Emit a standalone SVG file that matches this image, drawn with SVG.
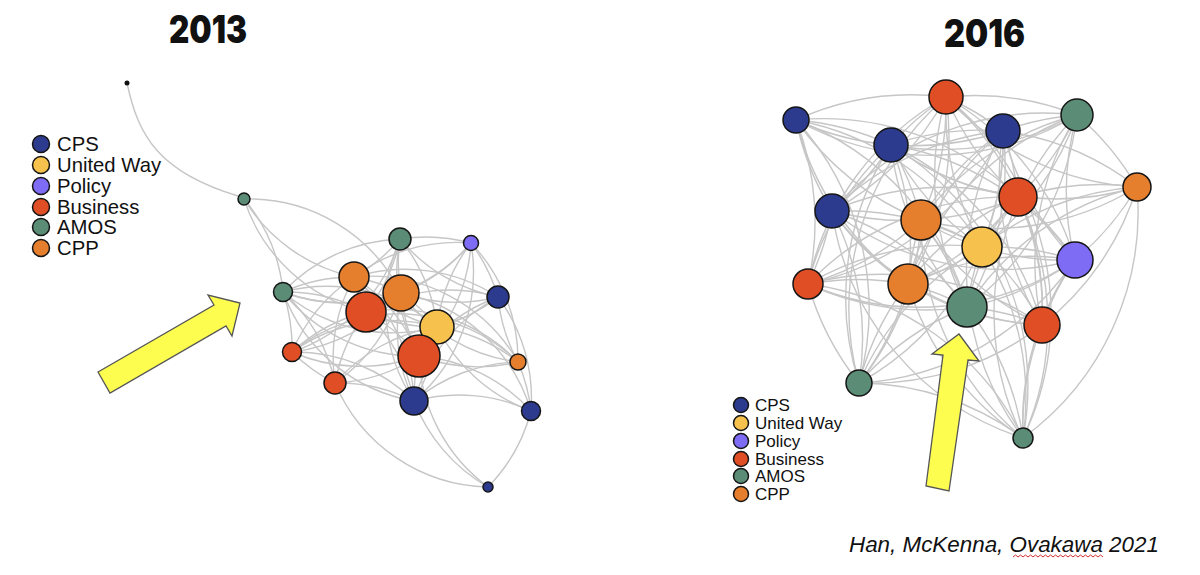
<svg xmlns="http://www.w3.org/2000/svg" width="1200" height="575" viewBox="0 0 1200 575">
<style>
.e{fill:none;stroke:#c6c6c6;stroke-width:1.4}
.nd{stroke:#151515;stroke-width:1.5}
.cps{fill:#2c3b8e}.uw{fill:#f6c24d}.pol{fill:#7f6cf4}.bus{fill:#df4e24}.amos{fill:#5b8c76}.cpp{fill:#e57f2e}
.lg{font-family:"Liberation Sans",Arial,sans-serif;fill:#111}
.yr{font-family:Inter,"Liberation Sans",sans-serif;font-weight:900;font-size:38px;fill:#111}
.arr{fill:#fdfd50;stroke:#555;stroke-width:1.3;stroke-linejoin:miter}
</style>
<rect width="1200" height="575" fill="#fff"/>
<text class="yr" x="169" y="43" textLength="78" lengthAdjust="spacingAndGlyphs">2013</text>
<text class="yr" x="944" y="47" textLength="81" lengthAdjust="spacingAndGlyphs">2016</text>
<g id="connectors">
<g id="edges-2013">
<path class="e" d="M127 83C138 135,158 172,238 196"/>
<path class="e" d="M244 199A170 170 0 0 1 283 292"/>
<path class="e" d="M244 199A170 170 0 0 0 354 277"/>
<path class="e" d="M244 199A170 170 0 0 1 401 293"/>
<path class="e" d="M244 199A170 170 0 0 0 366 312"/>
<path class="e" d="M400 239A170 170 0 0 1 471 243"/>
<path class="e" d="M400 239A170 170 0 0 0 283 292"/>
<path class="e" d="M400 239A170 170 0 0 1 354 277"/>
<path class="e" d="M400 239A170 170 0 0 0 401 293"/>
<path class="e" d="M400 239A170 170 0 0 1 366 312"/>
<path class="e" d="M400 239A170 170 0 0 0 498 297"/>
<path class="e" d="M400 239A170 170 0 0 1 437 327"/>
<path class="e" d="M400 239A170 170 0 0 0 419 356"/>
<path class="e" d="M400 239A170 170 0 0 1 292 352"/>
<path class="e" d="M400 239A170 170 0 0 0 414 401"/>
<path class="e" d="M471 243A170 170 0 0 1 283 292"/>
<path class="e" d="M471 243A170 170 0 0 0 354 277"/>
<path class="e" d="M471 243A170 170 0 0 1 401 293"/>
<path class="e" d="M471 243A170 170 0 0 1 498 297"/>
<path class="e" d="M471 243A170 170 0 0 0 437 327"/>
<path class="e" d="M471 243A170 170 0 0 1 419 356"/>
<path class="e" d="M471 243A170 170 0 0 1 518 362"/>
<path class="e" d="M471 243A170 170 0 0 1 414 401"/>
<path class="e" d="M283 292A170 170 0 0 1 354 277"/>
<path class="e" d="M283 292A170 170 0 0 0 401 293"/>
<path class="e" d="M283 292A170 170 0 0 1 366 312"/>
<path class="e" d="M283 292A170 170 0 0 0 498 297"/>
<path class="e" d="M283 292A170 170 0 0 1 437 327"/>
<path class="e" d="M283 292A170 170 0 0 0 419 356"/>
<path class="e" d="M283 292A170 170 0 0 1 292 352"/>
<path class="e" d="M283 292A170 170 0 0 1 335 383"/>
<path class="e" d="M283 292A170 170 0 0 0 414 401"/>
<path class="e" d="M354 277A170 170 0 0 1 401 293"/>
<path class="e" d="M354 277A170 170 0 0 0 366 312"/>
<path class="e" d="M354 277A170 170 0 0 1 498 297"/>
<path class="e" d="M354 277A170 170 0 0 0 437 327"/>
<path class="e" d="M354 277A170 170 0 0 1 419 356"/>
<path class="e" d="M354 277A170 170 0 0 0 292 352"/>
<path class="e" d="M354 277A170 170 0 0 1 518 362"/>
<path class="e" d="M354 277A170 170 0 0 0 335 383"/>
<path class="e" d="M354 277A170 170 0 0 1 414 401"/>
<path class="e" d="M401 293A170 170 0 0 1 366 312"/>
<path class="e" d="M401 293A170 170 0 0 0 498 297"/>
<path class="e" d="M401 293A170 170 0 0 1 437 327"/>
<path class="e" d="M401 293A170 170 0 0 0 419 356"/>
<path class="e" d="M401 293A170 170 0 0 1 292 352"/>
<path class="e" d="M401 293A170 170 0 0 0 518 362"/>
<path class="e" d="M401 293A170 170 0 0 1 335 383"/>
<path class="e" d="M401 293A170 170 0 0 0 414 401"/>
<path class="e" d="M401 293A170 170 0 0 1 531 411"/>
<path class="e" d="M366 312A170 170 0 0 1 498 297"/>
<path class="e" d="M366 312A170 170 0 0 0 437 327"/>
<path class="e" d="M366 312A170 170 0 0 1 419 356"/>
<path class="e" d="M366 312A170 170 0 0 0 292 352"/>
<path class="e" d="M366 312A170 170 0 0 1 518 362"/>
<path class="e" d="M366 312A170 170 0 0 0 335 383"/>
<path class="e" d="M366 312A170 170 0 0 1 414 401"/>
<path class="e" d="M498 297A170 170 0 0 1 437 327"/>
<path class="e" d="M498 297A170 170 0 0 0 419 356"/>
<path class="e" d="M498 297A170 170 0 0 0 518 362"/>
<path class="e" d="M498 297A170 170 0 0 0 414 401"/>
<path class="e" d="M498 297A170 170 0 0 1 531 411"/>
<path class="e" d="M437 327A170 170 0 0 1 419 356"/>
<path class="e" d="M437 327A170 170 0 0 0 292 352"/>
<path class="e" d="M437 327A170 170 0 0 1 518 362"/>
<path class="e" d="M437 327A170 170 0 0 0 335 383"/>
<path class="e" d="M437 327A170 170 0 0 1 414 401"/>
<path class="e" d="M437 327A170 170 0 0 0 531 411"/>
<path class="e" d="M419 356A170 170 0 0 1 292 352"/>
<path class="e" d="M419 356A170 170 0 0 0 518 362"/>
<path class="e" d="M419 356A170 170 0 0 1 335 383"/>
<path class="e" d="M419 356A170 170 0 0 0 414 401"/>
<path class="e" d="M419 356A170 170 0 0 1 531 411"/>
<path class="e" d="M419 356A170 170 0 0 0 488 487"/>
<path class="e" d="M292 352A170 170 0 0 1 518 362"/>
<path class="e" d="M292 352A170 170 0 0 0 335 383"/>
<path class="e" d="M292 352A170 170 0 0 1 414 401"/>
<path class="e" d="M518 362A170 170 0 0 1 531 411"/>
<path class="e" d="M518 362A170 170 0 0 0 414 401"/>
<path class="e" d="M335 383A170 170 0 0 1 414 401"/>
<path class="e" d="M335 383A170 170 0 0 0 488 487"/>
<path class="e" d="M414 401A170 170 0 0 1 531 411"/>
<path class="e" d="M414 401A170 170 0 0 0 488 487"/>
<path class="e" d="M531 411A170 170 0 0 1 488 487"/>
</g>
<g id="edges-2016">
<path class="e" d="M796 120A280 280 0 0 1 946 97"/>
<path class="e" d="M796 120A280 280 0 0 0 1077 115"/>
<path class="e" d="M796 120A280 280 0 0 1 891 145"/>
<path class="e" d="M796 120A280 280 0 0 0 1003 131"/>
<path class="e" d="M796 120A280 280 0 0 0 832 211"/>
<path class="e" d="M796 120A280 280 0 0 1 1018 197"/>
<path class="e" d="M796 120A280 280 0 0 0 921 220"/>
<path class="e" d="M796 120A280 280 0 0 1 982 247"/>
<path class="e" d="M796 120A280 280 0 0 1 808 284"/>
<path class="e" d="M796 120A280 280 0 0 0 908 284"/>
<path class="e" d="M796 120A280 280 0 0 1 967 307"/>
<path class="e" d="M796 120A280 280 0 0 1 859 383"/>
<path class="e" d="M946 97A280 280 0 0 1 1077 115"/>
<path class="e" d="M946 97A280 280 0 0 0 891 145"/>
<path class="e" d="M946 97A280 280 0 0 1 1003 131"/>
<path class="e" d="M946 97A280 280 0 0 0 1137 187"/>
<path class="e" d="M946 97A280 280 0 0 1 832 211"/>
<path class="e" d="M946 97A280 280 0 0 0 1018 197"/>
<path class="e" d="M946 97A280 280 0 0 1 921 220"/>
<path class="e" d="M946 97A280 280 0 0 0 982 247"/>
<path class="e" d="M946 97A280 280 0 0 1 1075 260"/>
<path class="e" d="M946 97A280 280 0 0 0 808 284"/>
<path class="e" d="M946 97A280 280 0 0 1 908 284"/>
<path class="e" d="M946 97A280 280 0 0 0 967 307"/>
<path class="e" d="M946 97A280 280 0 0 1 1042 325"/>
<path class="e" d="M946 97A280 280 0 0 0 859 383"/>
<path class="e" d="M946 97A280 280 0 0 1 1023 438"/>
<path class="e" d="M1077 115A280 280 0 0 1 891 145"/>
<path class="e" d="M1077 115A280 280 0 0 0 1003 131"/>
<path class="e" d="M1077 115A280 280 0 0 1 1137 187"/>
<path class="e" d="M1077 115A280 280 0 0 0 832 211"/>
<path class="e" d="M1077 115A280 280 0 0 1 1018 197"/>
<path class="e" d="M1077 115A280 280 0 0 0 921 220"/>
<path class="e" d="M1077 115A280 280 0 0 1 982 247"/>
<path class="e" d="M1077 115A280 280 0 0 0 1075 260"/>
<path class="e" d="M1077 115A280 280 0 0 0 908 284"/>
<path class="e" d="M1077 115A280 280 0 0 1 967 307"/>
<path class="e" d="M1077 115A280 280 0 0 0 1042 325"/>
<path class="e" d="M1077 115A280 280 0 0 0 1023 438"/>
<path class="e" d="M891 145A280 280 0 0 1 1003 131"/>
<path class="e" d="M891 145A280 280 0 0 0 1137 187"/>
<path class="e" d="M891 145A280 280 0 0 1 832 211"/>
<path class="e" d="M891 145A280 280 0 0 0 1018 197"/>
<path class="e" d="M891 145A280 280 0 0 1 921 220"/>
<path class="e" d="M891 145A280 280 0 0 0 982 247"/>
<path class="e" d="M891 145A280 280 0 0 1 1075 260"/>
<path class="e" d="M891 145A280 280 0 0 0 808 284"/>
<path class="e" d="M891 145A280 280 0 0 1 908 284"/>
<path class="e" d="M891 145A280 280 0 0 0 967 307"/>
<path class="e" d="M891 145A280 280 0 0 1 1042 325"/>
<path class="e" d="M891 145A280 280 0 0 0 859 383"/>
<path class="e" d="M891 145A280 280 0 0 1 1023 438"/>
<path class="e" d="M1003 131A280 280 0 0 1 1137 187"/>
<path class="e" d="M1003 131A280 280 0 0 0 832 211"/>
<path class="e" d="M1003 131A280 280 0 0 1 1018 197"/>
<path class="e" d="M1003 131A280 280 0 0 0 921 220"/>
<path class="e" d="M1003 131A280 280 0 0 1 982 247"/>
<path class="e" d="M1003 131A280 280 0 0 0 1075 260"/>
<path class="e" d="M1003 131A280 280 0 0 1 808 284"/>
<path class="e" d="M1003 131A280 280 0 0 0 908 284"/>
<path class="e" d="M1003 131A280 280 0 0 1 967 307"/>
<path class="e" d="M1003 131A280 280 0 0 0 1042 325"/>
<path class="e" d="M1003 131A280 280 0 0 1 859 383"/>
<path class="e" d="M1003 131A280 280 0 0 0 1023 438"/>
<path class="e" d="M1137 187A280 280 0 0 0 1018 197"/>
<path class="e" d="M1137 187A280 280 0 0 1 921 220"/>
<path class="e" d="M1137 187A280 280 0 0 0 982 247"/>
<path class="e" d="M1137 187A280 280 0 0 1 1075 260"/>
<path class="e" d="M1137 187A280 280 0 0 0 967 307"/>
<path class="e" d="M1137 187A280 280 0 0 1 1042 325"/>
<path class="e" d="M1137 187A280 280 0 0 1 1023 438"/>
<path class="e" d="M832 211A280 280 0 0 1 1018 197"/>
<path class="e" d="M832 211A280 280 0 0 0 921 220"/>
<path class="e" d="M832 211A280 280 0 0 1 982 247"/>
<path class="e" d="M832 211A280 280 0 0 0 1075 260"/>
<path class="e" d="M832 211A280 280 0 0 1 808 284"/>
<path class="e" d="M832 211A280 280 0 0 0 908 284"/>
<path class="e" d="M832 211A280 280 0 0 1 967 307"/>
<path class="e" d="M832 211A280 280 0 0 0 1042 325"/>
<path class="e" d="M832 211A280 280 0 0 1 859 383"/>
<path class="e" d="M832 211A280 280 0 0 0 1023 438"/>
<path class="e" d="M1018 197A280 280 0 0 1 921 220"/>
<path class="e" d="M1018 197A280 280 0 0 0 982 247"/>
<path class="e" d="M1018 197A280 280 0 0 1 1075 260"/>
<path class="e" d="M1018 197A280 280 0 0 0 808 284"/>
<path class="e" d="M1018 197A280 280 0 0 1 908 284"/>
<path class="e" d="M1018 197A280 280 0 0 0 967 307"/>
<path class="e" d="M1018 197A280 280 0 0 1 1042 325"/>
<path class="e" d="M1018 197A280 280 0 0 0 859 383"/>
<path class="e" d="M1018 197A280 280 0 0 1 1023 438"/>
<path class="e" d="M921 220A280 280 0 0 1 982 247"/>
<path class="e" d="M921 220A280 280 0 0 0 1075 260"/>
<path class="e" d="M921 220A280 280 0 0 1 808 284"/>
<path class="e" d="M921 220A280 280 0 0 0 908 284"/>
<path class="e" d="M921 220A280 280 0 0 1 967 307"/>
<path class="e" d="M921 220A280 280 0 0 0 1042 325"/>
<path class="e" d="M921 220A280 280 0 0 1 859 383"/>
<path class="e" d="M921 220A280 280 0 0 0 1023 438"/>
<path class="e" d="M982 247A280 280 0 0 1 1075 260"/>
<path class="e" d="M982 247A280 280 0 0 0 808 284"/>
<path class="e" d="M982 247A280 280 0 0 1 908 284"/>
<path class="e" d="M982 247A280 280 0 0 0 967 307"/>
<path class="e" d="M982 247A280 280 0 0 1 1042 325"/>
<path class="e" d="M982 247A280 280 0 0 0 859 383"/>
<path class="e" d="M982 247A280 280 0 0 1 1023 438"/>
<path class="e" d="M1075 260A280 280 0 0 1 808 284"/>
<path class="e" d="M1075 260A280 280 0 0 0 908 284"/>
<path class="e" d="M1075 260A280 280 0 0 1 967 307"/>
<path class="e" d="M1075 260A280 280 0 0 0 1042 325"/>
<path class="e" d="M1075 260A280 280 0 0 1 859 383"/>
<path class="e" d="M1075 260A280 280 0 0 0 1023 438"/>
<path class="e" d="M808 284A280 280 0 0 1 908 284"/>
<path class="e" d="M808 284A280 280 0 0 0 967 307"/>
<path class="e" d="M808 284A280 280 0 0 1 1042 325"/>
<path class="e" d="M808 284A280 280 0 0 0 859 383"/>
<path class="e" d="M808 284A280 280 0 0 1 1023 438"/>
<path class="e" d="M908 284A280 280 0 0 1 967 307"/>
<path class="e" d="M908 284A280 280 0 0 0 1042 325"/>
<path class="e" d="M908 284A280 280 0 0 1 859 383"/>
<path class="e" d="M908 284A280 280 0 0 0 1023 438"/>
<path class="e" d="M967 307A280 280 0 0 1 1042 325"/>
<path class="e" d="M967 307A280 280 0 0 0 859 383"/>
<path class="e" d="M967 307A280 280 0 0 1 1023 438"/>
<path class="e" d="M1042 325A280 280 0 0 1 859 383"/>
<path class="e" d="M1042 325A280 280 0 0 0 1023 438"/>
<path class="e" d="M859 383A280 280 0 0 1 1023 438"/>
</g>
</g>
<g id="nodes-2013">
<g id="n13-0"><circle cx="127" cy="83" r="2.5" fill="#111"/></g>
<g id="n13-1"><circle class="nd amos" cx="244" cy="199" r="6"/></g>
<g id="n13-2"><circle class="nd amos" cx="400" cy="239" r="11"/></g>
<g id="n13-3"><circle class="nd pol" cx="471" cy="243" r="7.5"/></g>
<g id="n13-4"><circle class="nd amos" cx="283" cy="292" r="9.5"/></g>
<g id="n13-5"><circle class="nd cpp" cx="354" cy="277" r="15"/></g>
<g id="n13-6"><circle class="nd cpp" cx="401" cy="293" r="18"/></g>
<g id="n13-7"><circle class="nd bus" cx="366" cy="312" r="20"/></g>
<g id="n13-8"><circle class="nd cps" cx="498" cy="297" r="11"/></g>
<g id="n13-9"><circle class="nd uw" cx="437" cy="327" r="17"/></g>
<g id="n13-10"><circle class="nd bus" cx="419" cy="356" r="21"/></g>
<g id="n13-11"><circle class="nd bus" cx="292" cy="352" r="9.5"/></g>
<g id="n13-12"><circle class="nd cpp" cx="518" cy="362" r="8"/></g>
<g id="n13-13"><circle class="nd bus" cx="335" cy="383" r="11"/></g>
<g id="n13-14"><circle class="nd cps" cx="414" cy="401" r="14"/></g>
<g id="n13-15"><circle class="nd cps" cx="531" cy="411" r="9.5"/></g>
<g id="n13-16"><circle class="nd cps" cx="488" cy="487" r="5"/></g>
</g>
<g id="nodes-2016">
<g id="n16-1"><circle class="nd cps" cx="796" cy="120" r="13"/></g>
<g id="n16-2"><circle class="nd bus" cx="946" cy="97" r="17"/></g>
<g id="n16-3"><circle class="nd amos" cx="1077" cy="115" r="16"/></g>
<g id="n16-4"><circle class="nd cps" cx="891" cy="145" r="17"/></g>
<g id="n16-5"><circle class="nd cps" cx="1003" cy="131" r="17"/></g>
<g id="n16-6"><circle class="nd cpp" cx="1137" cy="187" r="14"/></g>
<g id="n16-7"><circle class="nd cps" cx="832" cy="211" r="17"/></g>
<g id="n16-8"><circle class="nd bus" cx="1018" cy="197" r="19"/></g>
<g id="n16-9"><circle class="nd cpp" cx="921" cy="220" r="20"/></g>
<g id="n16-10"><circle class="nd uw" cx="982" cy="247" r="20"/></g>
<g id="n16-11"><circle class="nd pol" cx="1075" cy="260" r="18"/></g>
<g id="n16-12"><circle class="nd bus" cx="808" cy="284" r="15"/></g>
<g id="n16-13"><circle class="nd cpp" cx="908" cy="284" r="20"/></g>
<g id="n16-14"><circle class="nd amos" cx="967" cy="307" r="20"/></g>
<g id="n16-15"><circle class="nd bus" cx="1042" cy="325" r="18"/></g>
<g id="n16-16"><circle class="nd amos" cx="859" cy="383" r="13"/></g>
<g id="n16-17"><circle class="nd amos" cx="1023" cy="438" r="10"/></g>
</g>
<g id="arrow-2013"><polygon class="arr" points="98,372 214,305 208,295 240,303 232,336 226,326 110,393"/></g>
<g id="arrow-2016"><polygon class="arr" points="959,334 979,361 968,360 949,491 926,486 943,355 932,354"/></g>
<g id="legend-2013" class="lg" font-size="20.3">
<circle class="nd cps" cx="41" cy="144" r="8.5"/><text x="57" y="151">CPS</text>
<circle class="nd uw" cx="41" cy="165" r="8.5"/><text x="57" y="172">United Way</text>
<circle class="nd pol" cx="41" cy="186" r="8.5"/><text x="57" y="193">Policy</text>
<circle class="nd bus" cx="41" cy="207" r="8.5"/><text x="57" y="214">Business</text>
<circle class="nd amos" cx="41" cy="227" r="8.5"/><text x="57" y="234">AMOS</text>
<circle class="nd cpp" cx="41" cy="248" r="8.5"/><text x="57" y="255">CPP</text>
</g>
<g id="legend-2016" class="lg" font-size="17">
<circle class="nd cps" cx="741" cy="405" r="7.5"/><text x="755" y="411">CPS</text>
<circle class="nd uw" cx="741" cy="423" r="7.5"/><text x="755" y="429">United Way</text>
<circle class="nd pol" cx="741" cy="441" r="7.5"/><text x="755" y="447">Policy</text>
<circle class="nd bus" cx="741" cy="459" r="7.5"/><text x="755" y="465">Business</text>
<circle class="nd amos" cx="741" cy="476" r="7.5"/><text x="755" y="482">AMOS</text>
<circle class="nd cpp" cx="741" cy="494" r="7.5"/><text x="755" y="500">CPP</text>
</g>
<g id="credit">
<text class="lg" x="849" y="552" font-size="22.4" font-style="italic">Han, McKenna, Ovakawa 2021</text>
<path d="M1013 557l2.5 -2l2.5 2l2.5 -2l2.5 2l2.5 -2l2.5 2l2.5 -2l2.5 2l2.5 -2l2.5 2l2.5 -2l2.5 2l2.5 -2l2.5 2l2.5 -2l2.5 2l2.5 -2l2.5 2l2.5 -2l2.5 2l2.5 -2l2.5 2l2.5 -2l2.5 2l2.5 -2l2.5 2l2.5 -2l2.5 2l2.5 -2l2.5 2l2.5 -2l2.5 2l2.5 -2l2.5 2l2.5 -2l2.5 2" fill="none" stroke="#d43030" stroke-width="1"/>
</g>
</svg>
